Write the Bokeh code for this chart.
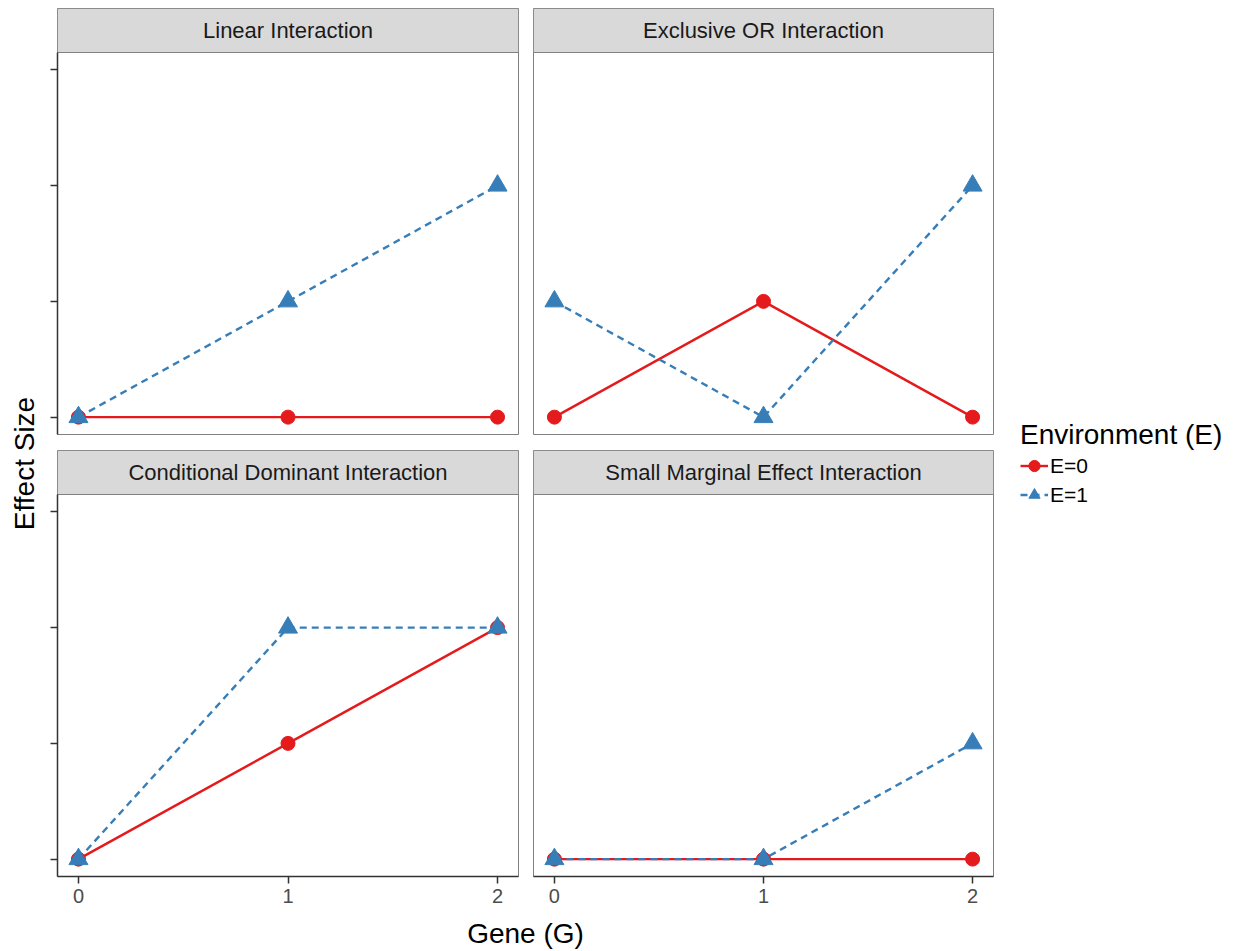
from bokeh.embed import file_html
from bokeh.layouts import column, row
from bokeh.models import (ColumnDataSource, FixedTicker, Label, Legend,
                          LegendItem, Range1d)
from bokeh.plotting import figure
from bokeh.resources import INLINE

# ---- data -----------------------------------------------------------------
genes = [0, 1, 2]
x_ticks = [0, 1, 2]
x_tick_labels = ["0", "1", "2"]
y_ticks = [0, 1, 2, 3]

panel_titles = [
    "Linear Interaction",
    "Exclusive OR Interaction",
    "Conditional Dominant Interaction",
    "Small Marginal Effect Interaction",
]

linear_e0 = [0, 0, 0]
linear_e1 = [0, 1, 2]
xor_e0 = [0, 1, 0]
xor_e1 = [1, 0, 2]
dominant_e0 = [0, 1, 2]
dominant_e1 = [0, 2, 2]
marginal_e0 = [0, 0, 0]
marginal_e1 = [0, 0, 1]

legend_title = "Environment (E)"
legend_labels = ["E=0", "E=1"]
x_title = "Gene (G)"
y_title = "Effect Size"

# ---- style ----------------------------------------------------------------
FONT = "Liberation Sans"
RED = "#E41A1C"
BLUE = "#377EB8"
STRIP_FILL = "#D9D9D9"
FRAME_GREY = "#808080"
AXIS_DARK = "#333333"

X_LO, X_HI = -0.1, 2.1
Y_LO, Y_HI = -0.15, 3.15
STRIP_TOP = 3.53          # strip band sits above the panel inside the frame

# the side figures share the same top/bottom borders (rows align them)
SIDE_TOP, SIDE_BOTTOM = 399, 424


def style_series(p, e0_vals, e1_vals):
    # lines under points, E=1 drawn over E=0
    p.line(genes, e0_vals, line_color=RED, line_width=2.4)
    p.line(genes, e1_vals, line_color=BLUE, line_width=2.4, line_dash="7 5")
    p.scatter(genes, e0_vals, marker="circle", size=14,
              fill_color=RED, line_color=RED)
    p.scatter(genes, e1_vals, marker="triangle", size=19,
              fill_color=BLUE, line_color=BLUE)


def make_panel(title, e0_vals, e1_vals, show_x, show_y, width, height,
               border_left, border_right, border_top, border_bottom):
    p = figure(
        width=width, height=height,
        x_range=Range1d(X_LO, X_HI), y_range=Range1d(Y_LO, STRIP_TOP),
        x_axis_location="below" if show_x else None,
        y_axis_location="left" if show_y else None,
        toolbar_location=None, output_backend="svg",
        min_border_left=border_left, min_border_right=border_right,
        min_border_top=border_top, min_border_bottom=border_bottom,
    )
    p.xgrid.visible = False
    p.ygrid.visible = False
    p.background_fill_color = "white"
    p.border_fill_color = "white"
    p.outline_line_color = FRAME_GREY
    p.outline_line_width = 1

    # facet strip
    p.quad(left=[X_LO], right=[X_HI], bottom=[Y_HI], top=[STRIP_TOP],
           fill_color=STRIP_FILL, line_color=FRAME_GREY, line_width=1)
    p.add_layout(Label(
        x=(X_LO + X_HI) / 2, y=(Y_HI + STRIP_TOP) / 2, text=title,
        text_align="center", text_baseline="middle",
        text_font=FONT, text_font_size="22px", text_color="#1A1A1A",
    ))

    style_series(p, e0_vals, e1_vals)

    if show_x:
        ax = p.xaxis[0]
        ax.ticker = FixedTicker(ticks=x_ticks)
        ax.major_label_overrides = {t: s for t, s in zip(x_ticks, x_tick_labels)}
        ax.bounds = (X_LO, X_HI)
        ax.axis_line_color = AXIS_DARK
        ax.axis_line_width = 1.5
        ax.major_tick_line_color = AXIS_DARK
        ax.major_tick_line_width = 1.5
        ax.major_tick_out = 7
        ax.major_tick_in = 0
        ax.minor_tick_line_color = None
        ax.major_label_text_font = FONT
        ax.major_label_text_font_size = "20px"
        ax.major_label_text_color = "#4D4D4D"
        ax.major_label_standoff = 5
    if show_y:
        ay = p.yaxis[0]
        ay.ticker = FixedTicker(ticks=y_ticks)
        ay.bounds = (Y_LO, Y_HI)
        ay.axis_line_color = AXIS_DARK
        ay.axis_line_width = 1.5
        ay.major_tick_line_color = AXIS_DARK
        ay.major_tick_line_width = 1.5
        ay.major_tick_out = 7
        ay.major_tick_in = 0
        ay.minor_tick_line_color = None
        ay.major_label_text_color = None
        ay.major_label_text_font_size = "0px"
        ay.major_label_standoff = 0
    return p


tl = make_panel(panel_titles[0], linear_e0, linear_e1, False, True,
                475, 441, 7, 7, 8, 7)
tr = make_panel(panel_titles[1], xor_e0, xor_e1, False, False,
                475, 441, 8, 7, 8, 7)
bl = make_panel(panel_titles[2], dominant_e0, dominant_e1, True, True,
                475, 476, 7, 7, 9, 41)
br = make_panel(panel_titles[3], marginal_e0, marginal_e1, True, False,
                475, 476, 8, 7, 9, 41)


def blank_canvas(width, height, **kw):
    opts = dict(x_axis_location=None, y_axis_location=None, min_border=0)
    opts.update(kw)
    f = figure(width=width, height=height,
               x_range=Range1d(0, 1), y_range=Range1d(0, 1),
               toolbar_location=None, output_backend="svg", **opts)
    f.xgrid.visible = False
    f.ygrid.visible = False
    f.outline_line_color = None
    f.background_fill_color = "white"
    f.border_fill_color = "white"
    return f


# shared y-axis title, carried by an otherwise empty axis
ylab = blank_canvas(50, 951, y_axis_location="left", min_border_left=41,
                    min_border_top=SIDE_TOP, min_border_bottom=SIDE_BOTTOM)
ya = ylab.yaxis[0]
ya.ticker = FixedTicker(ticks=[])
ya.axis_line_color = None
ya.major_tick_line_color = None
ya.minor_tick_line_color = None
ya.major_tick_out = 0
ya.major_label_standoff = 0
ya.axis_label = y_title
ya.axis_label_standoff = 2
ya.axis_label_text_font = FONT
ya.axis_label_text_font_size = "28px"
ya.axis_label_text_font_style = "normal"
ya.axis_label_text_color = "black"

# shared x-axis title
xlab = blank_canvas(950, 34)
xlab.x_range = Range1d(0, 950)
xlab.y_range = Range1d(0, 34)
xlab.add_layout(Label(
    x=475, y=34 - 16, text=x_title,
    text_align="center", text_baseline="middle",
    text_font=FONT, text_font_size="28px", text_color="black",
))

# legend column: key renderers hold a single undefined point
lf = blank_canvas(238, 951, min_border_top=SIDE_TOP,
                  min_border_bottom=SIDE_BOTTOM)
key_src = ColumnDataSource(data=dict(x=[float("nan")], y=[float("nan")]))
r0_line = lf.line("x", "y", source=key_src, line_color=RED, line_width=2.4)
r0_pt = lf.scatter("x", "y", source=key_src, marker="circle",
                   fill_color=RED, line_color=RED)
r1_line = lf.line("x", "y", source=key_src, line_color=BLUE, line_width=2.4,
                  line_dash="7 5")
r1_pt = lf.scatter("x", "y", source=key_src, marker="triangle",
                   fill_color=BLUE, line_color=BLUE)
legend = Legend(
    items=[LegendItem(label=legend_labels[0], renderers=[r0_line, r0_pt]),
           LegendItem(label=legend_labels[1], renderers=[r1_line, r1_pt])],
    location="top_left", title=legend_title,
    title_text_font=FONT, title_text_font_size="28px",
    title_text_color="black", title_text_font_style="normal",
    title_standoff=0,
    label_text_font=FONT, label_text_font_size="21px", label_text_color="black",
    glyph_width=28, glyph_height=29, label_standoff=2, spacing=0,
    padding=0, margin=20, border_line_color=None, background_fill_alpha=0,
)
lf.add_layout(legend)

layout = row(ylab, column(row(tl, tr), row(bl, br), xlab), lf)

open("out.html", "w").write(file_html(layout, INLINE))
